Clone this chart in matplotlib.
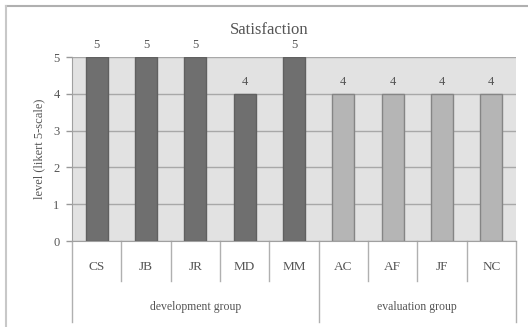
import matplotlib.pyplot as plt
from matplotlib.lines import Line2D

# satisfaction scores per participant
names = ['CS', 'JB', 'JR', 'MD', 'MM', 'AC', 'AF', 'JF', 'NC']
scores = [5, 5, 5, 4, 5, 4, 4, 4, 4]
groups = ['development group', 'evaluation group']
group_sizes = [5, 4]

plt.rcParams['font.family'] = ['Liberation Serif', 'DejaVu Serif']
txt = '#555555'

fig = plt.figure(figsize=(5.28, 3.27), dpi=100)
ax = fig.add_axes([72 / 528, 86 / 327, 444 / 528, 184 / 327])
ax.set_facecolor('#e2e2e2')

colors = []
edges = []
for g, n in enumerate(group_sizes):
    colors += [['#6f6f6f', '#b5b5b5'][g]] * n
    edges += [['#606060', '#858585'][g]] * n

x = list(range(len(names)))
ax.bar(x, scores, width=0.44, color=colors, edgecolor=edges, linewidth=1, zorder=3)
for xi, v in zip(x, scores):
    ax.text(xi, v + 0.17, str(v), ha='center', va='bottom', fontsize=9, color=txt)

ax.set_xlim(-0.5, len(names) - 0.5)
ax.set_ylim(0, 5)
ax.set_yticks(range(6))
ax.yaxis.grid(True, color='#a8a8a8', linewidth=1, zorder=0)
ax.set_xticks([])
ax.tick_params(axis='y', colors='#999999', labelcolor=txt, labelsize=9,
               length=4, width=1, pad=5)
for s in ['top', 'right']:
    ax.spines[s].set_visible(False)
ax.spines['left'].set_color('#a0a0a0')
ax.spines['bottom'].set_color('#a0a0a0')
ax.set_ylabel('level (likert 5-scale)', fontsize=9, color=txt, labelpad=6)
fig.text(269 / 528, 1 - 30 / 327, 'Satisfaction', ha='center', va='center',
         fontsize=12, color=txt)

# two-level category axis below the plot
tr = ax.get_xaxis_transform()
for xi, name in zip(x, names):
    ax.text(xi, -0.141, name, transform=tr, ha='center', va='center',
            fontsize=9.5, color=txt)
bounds = [-0.5]
for n in group_sizes:
    bounds.append(bounds[-1] + n)
for b in range(len(names) + 1):
    xb = b - 0.5
    y0 = -0.44 if xb in bounds else -0.217
    ax.add_line(Line2D([xb, xb], [0, y0], transform=tr, color='#b0b0b0',
                       linewidth=1, clip_on=False))
for g, name in enumerate(groups):
    xc = (bounds[g] + bounds[g + 1]) / 2
    ax.text(xc, -0.359, name, transform=tr, ha='center', va='center',
            fontsize=8.5, color=txt)

# outer frame
fig.add_artist(Line2D([6 / 528, 1], [1 - 6 / 327] * 2, color='#b0b0b0', linewidth=1.5))
fig.add_artist(Line2D([6 / 528] * 2, [0, 1 - 6 / 327], color='#c8c8c8', linewidth=1.5))

fig.savefig('out.png', dpi=100)
